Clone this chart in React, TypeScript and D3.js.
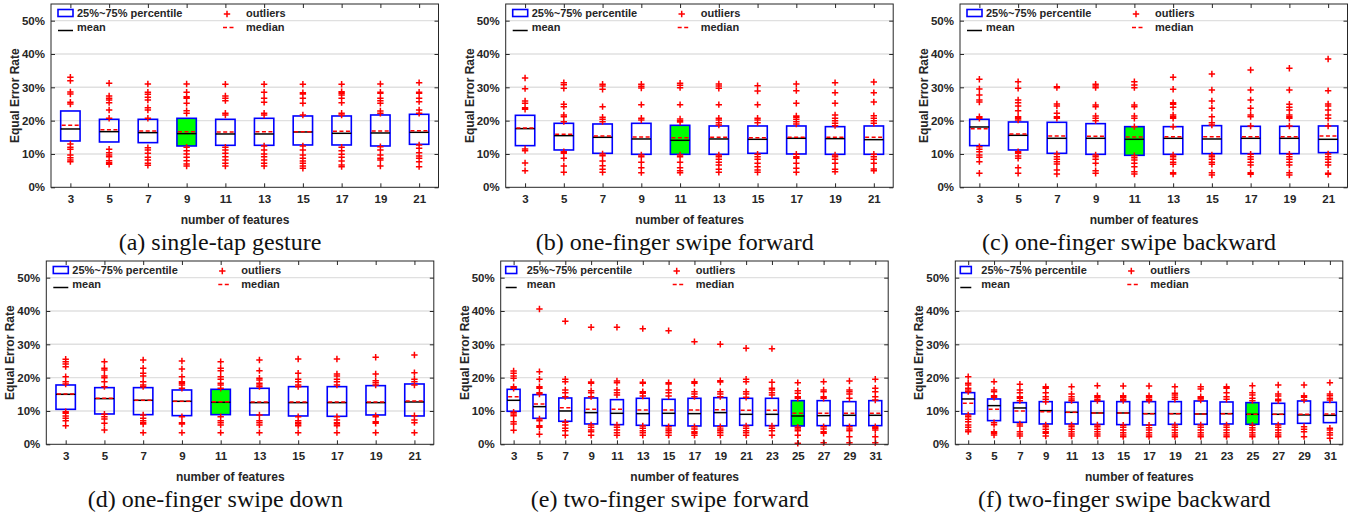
import React, { useRef, useEffect } from "react";
import * as d3 from "d3";

// number of features on the x axis
const features10 = [3, 5, 7, 9, 11, 13, 15, 17, 19, 21];
const features15 = [3, 5, 7, 9, 11, 13, 15, 17, 19, 21, 23, 25, 27, 29, 31];
const yTicks = [0, 10, 20, 30, 40, 50];

// all values are equal error rate in %
// (a) single-tap gesture
const tapQ1 = [13.9, 13.6, 13.4, 12.4, 12.6, 12.6, 12.7, 12.7, 12.4, 12.9];
const tapQ3 = [22.9, 20.4, 20.4, 20.7, 20.4, 20.7, 21.4, 21.4, 21.7, 21.9];
const tapMean = [17.5, 16.7, 16.4, 16.1, 16.0, 16.0, 16.6, 16.2, 16.3, 16.5];
const tapMedian = [18.6, 17.3, 16.9, 16.7, 16.6, 16.7, 16.7, 16.8, 16.9, 17.0];
const tapOutliers = [
  [33.0, 32.0, 28.6, 28.0, 25.5, 25.0, 13.0, 12.0, 11.4, 9.7, 8.9, 8.2, 7.7],
  [31.2, 27.4, 26.7, 26.2, 25.4, 23.2, 20.7, 11.4, 10.4, 9.7, 9.2, 8.0, 7.4, 6.9],
  [31.0, 28.5, 27.9, 27.0, 26.2, 23.9, 23.2, 20.7, 11.9, 11.2, 10.2, 9.0, 8.2, 7.2, 6.6],
  [31.0, 28.5, 27.2, 26.7, 25.2, 23.0, 22.2, 12.0, 11.0, 10.0, 9.0, 8.0, 7.0, 6.4],
  [30.9, 27.4, 26.7, 26.0, 22.2, 21.7, 12.0, 11.2, 10.2, 9.2, 8.2, 7.2, 6.4],
  [30.9, 28.5, 26.7, 25.5, 22.2, 21.7, 12.4, 11.2, 10.0, 9.2, 8.2, 7.2, 6.4],
  [30.9, 28.4, 28.0, 26.7, 25.2, 21.7, 12.4, 11.2, 9.7, 8.7, 7.9, 7.2, 6.4, 5.7],
  [30.9, 28.7, 28.2, 27.7, 26.7, 25.4, 22.2, 21.7, 12.0, 11.0, 9.9, 9.0, 7.9, 6.7, 6.2],
  [31.0, 28.5, 28.2, 26.7, 26.0, 25.2, 22.9, 22.2, 12.2, 11.2, 9.7, 8.7, 8.2, 6.4],
  [31.4, 28.5, 28.2, 26.7, 25.7, 23.2, 22.2, 12.7, 11.7, 10.4, 9.4, 8.7, 7.7, 6.2],
];

// (b) one-finger swipe forward
const fwdQ1 = [12.5, 11.2, 10.2, 9.9, 9.9, 9.9, 10.2, 10.0, 9.9, 9.9];
const fwdQ3 = [21.6, 19.2, 19.0, 19.2, 18.6, 18.4, 18.4, 18.4, 18.2, 18.4];
const fwdMean = [17.6, 15.5, 15.0, 14.5, 14.1, 14.5, 14.4, 14.7, 14.6, 14.3];
const fwdMedian = [17.8, 15.9, 15.4, 15.1, 14.9, 15.0, 14.9, 15.0, 15.0, 15.0];
const fwdOutliers = [
  [32.8, 29.6, 25.9, 25.2, 23.9, 23.4, 11.5, 11.0, 7.3, 5.0],
  [31.4, 30.8, 29.7, 24.9, 24.2, 21.7, 21.2, 19.7, 10.7, 10.2, 8.7, 6.4, 4.5],
  [30.9, 30.4, 29.4, 24.2, 21.0, 20.4, 19.7, 10.0, 9.5, 7.9, 6.5, 5.4, 4.5],
  [30.9, 30.3, 29.8, 24.8, 20.7, 20.2, 9.7, 9.2, 7.5, 5.9, 4.4],
  [31.2, 30.6, 29.9, 24.8, 20.5, 20.0, 19.6, 9.7, 9.2, 7.5, 5.9, 5.0, 4.4],
  [31.0, 30.4, 29.7, 24.8, 20.7, 20.2, 19.4, 18.7, 9.7, 9.2, 8.4, 7.5, 6.7, 5.4, 4.5],
  [30.5, 28.9, 24.8, 20.7, 20.2, 19.4, 9.9, 9.2, 8.4, 7.2, 6.2, 5.2, 4.5],
  [31.0, 29.0, 25.2, 21.4, 21.0, 20.4, 19.7, 19.0, 9.9, 9.2, 8.7, 7.2, 5.7, 4.5],
  [31.4, 28.4, 25.2, 21.7, 20.7, 20.0, 19.2, 18.5, 9.7, 9.2, 8.4, 7.2, 5.4, 4.7],
  [31.6, 28.4, 25.6, 21.5, 20.7, 20.0, 19.2, 9.9, 9.2, 8.4, 7.2, 5.5, 5.0],
];

// (c) one-finger swipe backward
const bwdQ1 = [12.5, 11.2, 10.2, 9.9, 9.6, 9.9, 10.1, 10.1, 10.1, 10.4];
const bwdQ3 = [20.4, 19.6, 19.5, 19.1, 18.2, 18.2, 18.5, 18.3, 18.3, 18.4];
const bwdMean = [18.1, 15.6, 14.7, 14.7, 14.4, 14.7, 14.5, 14.7, 14.7, 14.4];
const bwdMedian = [17.6, 16.0, 15.4, 15.3, 15.1, 15.2, 15.2, 15.2, 15.2, 15.4];
const bwdOutliers = [
  [32.4, 29.5, 27.7, 26.2, 25.6, 21.2, 20.7, 12.2, 11.4, 10.7, 9.7, 9.0, 7.7, 4.2],
  [31.7, 29.7, 26.2, 25.4, 24.4, 23.0, 21.2, 20.7, 20.2, 10.7, 10.2, 9.4, 8.7, 5.9, 4.2],
  [30.2, 29.9, 25.0, 24.4, 22.2, 21.2, 20.7, 10.0, 9.2, 8.4, 7.7, 7.0, 5.2, 4.0],
  [30.9, 30.4, 29.9, 24.7, 24.2, 21.4, 20.7, 20.0, 9.7, 9.2, 8.4, 7.2, 5.0, 4.2],
  [31.7, 30.7, 29.9, 24.7, 24.2, 21.4, 20.7, 18.2, 9.5, 8.9, 8.2, 7.2, 6.2, 4.7, 4.0],
  [33.0, 29.4, 25.4, 24.9, 24.0, 21.7, 21.2, 20.7, 18.2, 9.7, 9.2, 8.4, 7.5, 6.9, 4.4, 4.0],
  [34.0, 29.2, 25.9, 23.7, 21.2, 19.4, 18.7, 9.7, 9.2, 8.4, 7.5, 6.9, 4.4, 3.7],
  [35.2, 29.2, 26.2, 23.7, 21.7, 21.2, 18.4, 9.9, 9.2, 8.4, 7.5, 6.7, 4.4, 3.9],
  [35.7, 29.2, 24.9, 24.0, 23.2, 21.7, 21.2, 20.7, 18.4, 9.9, 9.2, 8.4, 7.5, 6.7, 4.4, 3.7],
  [38.5, 29.0, 25.0, 24.4, 23.2, 21.7, 20.7, 18.4, 10.0, 9.2, 8.4, 7.5, 6.7, 4.2, 3.9],
];

// (d) one-finger swipe down
const downQ1 = [10.5, 9.1, 8.9, 8.6, 8.9, 8.8, 8.5, 8.4, 8.8, 8.5];
const downQ3 = [17.8, 17.0, 17.0, 16.3, 16.5, 16.8, 17.3, 17.3, 17.6, 18.1];
const downMean = [15.0, 13.7, 13.2, 12.9, 12.6, 12.5, 12.5, 12.5, 12.5, 12.7];
const downMedian = [15.1, 13.8, 13.2, 12.9, 12.8, 12.7, 12.7, 12.7, 12.7, 13.0];
const downOutliers = [
  [25.5, 24.8, 24.1, 23.3, 20.3, 18.8, 18.1, 9.8, 9.3, 8.5, 7.8, 7.1, 5.6],
  [24.8, 22.8, 22.3, 20.5, 20.0, 18.8, 17.3, 9.0, 8.3, 7.6, 6.3, 4.3],
  [25.3, 22.8, 21.3, 20.5, 18.8, 17.8, 17.3, 8.8, 7.8, 7.1, 6.5, 6.1, 3.5],
  [25.0, 22.6, 20.3, 18.8, 18.3, 17.8, 16.8, 8.3, 6.5, 6.1, 3.5],
  [24.8, 22.8, 22.1, 20.3, 19.5, 18.3, 17.8, 16.8, 8.3, 7.1, 6.5, 5.8, 3.5],
  [25.3, 22.1, 19.8, 19.3, 18.3, 17.8, 17.3, 8.8, 7.1, 6.5, 5.8, 3.5],
  [25.6, 21.3, 19.5, 18.8, 17.8, 17.3, 8.3, 7.1, 6.5, 6.1, 5.6, 3.5],
  [25.6, 21.1, 20.5, 19.5, 18.8, 17.8, 8.3, 7.3, 6.5, 6.1, 5.6, 3.5],
  [26.1, 21.1, 19.1, 18.5, 17.8, 8.6, 8.3, 6.8, 6.3, 3.5],
  [26.8, 21.5, 19.5, 18.8, 17.8, 8.6, 7.3, 6.5, 3.5],
];

// (e) two-finger swipe forward
const twoFwdQ1 = [9.9, 7.8, 6.9, 6.1, 5.9, 5.7, 5.6, 5.5, 5.5, 5.7, 5.6, 5.5, 5.6, 5.6, 5.6];
const twoFwdQ3 = [16.5, 14.9, 13.9, 13.9, 13.4, 13.8, 13.5, 13.8, 14.0, 13.8, 13.8, 13.1, 13.1, 12.8, 13.1];
const twoFwdMean = [13.2, 11.3, 10.0, 9.5, 9.3, 9.2, 9.3, 9.2, 9.5, 9.0, 9.0, 8.5, 8.6, 8.7, 8.7];
const twoFwdMedian = [14.3, 12.1, 11.0, 10.5, 10.5, 10.3, 10.3, 10.3, 10.4, 10.2, 10.2, 9.3, 9.3, 9.3, 9.3];
const twoFwdOutliers = [
  [22.0, 21.3, 20.5, 19.8, 17.3, 16.8, 9.6, 9.1, 8.6, 6.8, 6.1, 4.2],
  [40.6, 21.8, 19.5, 17.3, 16.8, 15.5, 15.1, 7.6, 7.1, 5.6, 5.1, 3.0],
  [36.9, 19.5, 18.8, 16.3, 15.5, 14.3, 6.6, 5.8, 4.8, 4.1, 2.7],
  [35.1, 18.7, 18.3, 16.1, 15.5, 14.3, 5.8, 5.1, 4.3, 3.8, 2.7],
  [35.1, 19.0, 18.5, 16.3, 15.5, 14.8, 5.8, 5.1, 4.3, 3.5, 2.7],
  [34.7, 18.6, 18.3, 15.8, 15.3, 14.5, 5.5, 4.8, 4.1, 3.5, 2.7],
  [34.1, 18.5, 18.1, 16.3, 15.5, 14.5, 5.3, 4.6, 4.1, 3.5, 2.7],
  [30.8, 18.8, 18.3, 15.8, 15.1, 14.3, 5.3, 4.6, 3.8, 3.3, 2.7],
  [30.0, 19.1, 18.7, 15.8, 15.1, 14.3, 5.3, 4.6, 4.1, 3.5, 2.7],
  [28.8, 19.5, 18.8, 15.8, 15.1, 14.1, 5.5, 4.8, 4.1, 3.5, 2.7],
  [28.7, 18.6, 16.8, 16.3, 15.5, 14.8, 5.5, 4.8, 4.1, 2.7],
  [18.5, 16.1, 15.3, 14.3, 13.8, 5.1, 4.6, 4.1, 2.7, 0.3],
  [18.8, 16.3, 15.8, 14.3, 13.8, 5.3, 4.6, 3.8, 3.3, 0.5],
  [19.0, 16.3, 15.8, 15.1, 13.8, 5.3, 4.6, 4.1, 2.3, 0.5],
  [19.5, 16.8, 15.8, 14.3, 13.3, 5.3, 4.8, 4.3, 2.3, 0.5],
];

// (f) two-finger swipe backward
const twoBwdQ1 = [9.1, 7.1, 6.6, 6.1, 6.1, 6.0, 5.9, 5.8, 6.0, 6.0, 6.1, 6.0, 6.1, 6.3, 6.5];
const twoBwdQ3 = [15.5, 13.6, 12.5, 12.8, 12.6, 12.9, 12.8, 12.8, 12.8, 13.0, 12.7, 12.5, 12.3, 13.0, 12.6];
const twoBwdMean = [13.6, 11.6, 10.9, 10.1, 9.6, 9.4, 9.4, 9.2, 9.2, 9.1, 9.2, 9.0, 9.0, 8.8, 8.7];
const twoBwdMedian = [12.3, 10.5, 10.0, 9.8, 9.6, 9.4, 9.4, 9.2, 9.2, 9.1, 9.2, 9.0, 9.0, 9.0, 9.1];
const twoBwdOutliers = [
  [20.3, 18.3, 17.8, 16.8, 16.3, 15.8, 8.8, 8.3, 7.5, 6.8, 5.8, 5.1, 4.3, 3.8],
  [18.8, 16.3, 15.8, 14.6, 14.1, 6.5, 5.9, 3.8, 3.3, 2.8],
  [18.0, 16.3, 15.5, 14.3, 13.8, 13.1, 6.1, 5.5, 3.8, 3.1, 2.5],
  [17.3, 16.8, 15.5, 14.3, 13.5, 12.8, 5.8, 5.3, 4.5, 3.8, 3.3, 2.5],
  [17.3, 15.1, 14.3, 13.6, 13.1, 5.8, 5.3, 4.5, 3.8, 3.1, 2.5],
  [17.6, 14.6, 14.1, 13.5, 13.1, 5.8, 5.3, 4.5, 3.8, 3.1, 2.5],
  [17.5, 14.6, 14.1, 13.5, 13.1, 5.7, 5.1, 4.3, 3.5, 2.8, 2.3],
  [17.5, 14.6, 14.1, 13.5, 13.1, 5.7, 5.0, 4.3, 3.5, 2.8, 2.3],
  [17.3, 15.3, 14.8, 14.1, 13.5, 5.8, 5.1, 4.3, 3.5, 2.8, 2.3],
  [17.3, 16.6, 14.3, 13.8, 13.3, 5.8, 5.1, 4.3, 3.5, 2.8, 2.3],
  [17.3, 16.8, 15.5, 14.3, 13.5, 5.8, 5.1, 4.3, 3.5, 2.8, 2.3],
  [17.6, 15.5, 14.8, 13.8, 13.1, 5.7, 5.0, 4.3, 3.5, 2.8, 2.3],
  [17.8, 15.1, 14.5, 13.5, 13.1, 5.8, 5.1, 4.3, 3.5, 2.8, 2.3],
  [17.8, 14.6, 14.1, 13.3, 5.3, 4.5, 3.8, 2.3],
  [18.5, 15.1, 14.6, 13.8, 13.3, 4.8, 4.3, 3.5, 2.8, 1.8],
];

const panels = [
  { caption: "(a) single-tap gesture", features: features10, q1: tapQ1, q3: tapQ3, mean: tapMean, median: tapMedian, outliers: tapOutliers, best: 9, left: 51, top: 4 },
  { caption: "(b) one-finger swipe forward", features: features10, q1: fwdQ1, q3: fwdQ3, mean: fwdMean, median: fwdMedian, outliers: fwdOutliers, best: 11, left: 505.7, top: 4 },
  { caption: "(c) one-finger swipe backward", features: features10, q1: bwdQ1, q3: bwdQ3, mean: bwdMean, median: bwdMedian, outliers: bwdOutliers, best: 11, left: 960, top: 4 },
  { caption: "(d) one-finger swipe down", features: features10, q1: downQ1, q3: downQ3, mean: downMean, median: downMedian, outliers: downOutliers, best: 11, left: 46.3, top: 261 },
  { caption: "(e) two-finger swipe forward", features: features15, q1: twoFwdQ1, q3: twoFwdQ3, mean: twoFwdMean, median: twoFwdMedian, outliers: twoFwdOutliers, best: 25, left: 500.7, top: 261 },
  { caption: "(f) two-finger swipe backward", features: features15, q1: twoBwdQ1, q3: twoBwdQ3, mean: twoBwdMean, median: twoBwdMedian, outliers: twoBwdOutliers, best: 25, left: 955.3, top: 261 },
];

const plotW = 387.5;
const plotH = 183.3;
const sans = "'Liberation Sans', Arial, Helvetica, sans-serif";
const axisColor = "#262626";

function plusPath(cx, cy, r) {
  return `M${cx - r},${cy}H${cx + r}M${cx},${cy - r}V${cy + r}`;
}

function drawPanel(svg, p) {
  const L = p.left, T = p.top, R = L + plotW, B = T + plotH;

  const xScale = d3.scalePoint().domain(p.features).range([L, R]).padding(0.5);
  const yScale = d3.scaleLinear().domain([0, 55]).range([B, T]);
  const boxW = xScale.step() * 0.5;

  const g = svg.append("g");

  // horizontal grid
  g.append("g").selectAll("line")
    .data(yTicks.filter(d => d > 0))
    .enter().append("line")
    .attr("x1", L).attr("x2", R)
    .attr("y1", d => yScale(d)).attr("y2", d => yScale(d))
    .attr("stroke", "#e0e0e0").attr("stroke-width", 1.4);

  const rows = p.features.map((f, i) => ({
    f, q1: p.q1[i], q3: p.q3[i], mean: p.mean[i], median: p.median[i], out: p.outliers[i],
  }));

  const boxes = g.append("g");
  boxes.selectAll("rect")
    .data(rows).enter().append("rect")
    .attr("x", d => xScale(d.f) - boxW / 2)
    .attr("y", d => yScale(d.q3))
    .attr("width", boxW)
    .attr("height", d => yScale(d.q1) - yScale(d.q3))
    .attr("fill", d => d.f === p.best ? "#00ff00" : "none")
    .attr("stroke", "#0000ff").attr("stroke-width", 1.6);

  // mean (black) and median (red dashed)
  boxes.selectAll(".mean")
    .data(rows).enter().append("line").attr("class", "mean")
    .attr("x1", d => xScale(d.f) - boxW / 2).attr("x2", d => xScale(d.f) + boxW / 2)
    .attr("y1", d => yScale(d.mean)).attr("y2", d => yScale(d.mean))
    .attr("stroke", "#000").attr("stroke-width", 1.5);
  boxes.selectAll(".median")
    .data(rows).enter().append("line").attr("class", "median")
    .attr("x1", d => xScale(d.f) - boxW / 2 + 1).attr("x2", d => xScale(d.f) + boxW / 2)
    .attr("y1", d => yScale(d.median)).attr("y2", d => yScale(d.median))
    .attr("stroke", "#ff0000").attr("stroke-width", 1.5).attr("stroke-dasharray", "4,2.5");

  // outliers
  const pts = rows.flatMap(d => d.out.map(v => ({ f: d.f, v })));
  g.append("path")
    .attr("d", pts.map(d => plusPath(xScale(d.f), yScale(d.v), 3.2)).join(""))
    .attr("stroke", "#ff0000").attr("stroke-width", 1.5).attr("fill", "none");

  // axes with inward ticks
  const left = g.append("g").attr("transform", `translate(${L},0)`)
    .call(d3.axisLeft(yScale).tickValues(yTicks).tickSize(-4).tickSizeOuter(0).tickPadding(6).tickFormat(d => d + "%"));
  const bottom = g.append("g").attr("transform", `translate(0,${B})`)
    .call(d3.axisBottom(xScale).tickSize(-4).tickSizeOuter(0).tickPadding(7.5));
  g.append("g").attr("transform", `translate(${R},0)`)
    .call(d3.axisRight(yScale).tickValues(yTicks).tickSize(-4).tickSizeOuter(0).tickFormat(() => ""));
  g.append("g").attr("transform", `translate(0,${T})`)
    .call(d3.axisTop(xScale).tickSize(-4).tickSizeOuter(0).tickFormat(() => ""));
  g.selectAll(".domain").remove();
  g.selectAll(".tick line").attr("stroke", axisColor);
  [left, bottom].forEach(a => a.selectAll("text")
    .attr("font-family", sans).attr("font-weight", "bold").attr("font-size", 11.5).attr("fill", axisColor));

  g.append("rect")
    .attr("x", L).attr("y", T).attr("width", plotW).attr("height", plotH)
    .attr("fill", "none").attr("stroke", axisColor).attr("stroke-width", 1);

  // axis titles
  g.append("text")
    .attr("transform", `translate(${L - 36},${(T + B) / 2}) rotate(-90)`)
    .attr("text-anchor", "middle").attr("dominant-baseline", "central")
    .attr("font-family", sans).attr("font-weight", "bold").attr("font-size", 12).attr("fill", axisColor)
    .text("Equal Error Rate");
  g.append("text")
    .attr("x", L + 184).attr("y", B + 36.5)
    .attr("text-anchor", "middle")
    .attr("font-family", sans).attr("font-weight", "bold").attr("font-size", 12).attr("fill", axisColor)
    .text("number of features");

  // legend
  const wide = p.features.length <= 10;
  const iconX = L + (wide ? 7 : 5);
  const iconW = wide ? 15 : 11;
  const lg = g.append("g");
  lg.append("rect")
    .attr("x", iconX).attr("y", T + 5.5).attr("width", iconW).attr("height", 7)
    .attr("fill", "none").attr("stroke", "#0000ff").attr("stroke-width", 1.6);
  lg.append("line")
    .attr("x1", iconX).attr("x2", iconX + iconW).attr("y1", T + 26.5).attr("y2", T + 26.5)
    .attr("stroke", "#000").attr("stroke-width", 1.5);
  lg.append("path")
    .attr("d", plusPath(L + 176, T + 10, 3.2))
    .attr("stroke", "#ff0000").attr("stroke-width", 1.5);
  lg.append("line")
    .attr("x1", L + 172).attr("x2", L + 184).attr("y1", T + 23.5).attr("y2", T + 23.5)
    .attr("stroke", "#ff0000").attr("stroke-width", 1.5).attr("stroke-dasharray", "4,2.5");
  const items = [
    { label: "25%~75% percentile", x: L + 26, y: T + 8.5 },
    { label: "mean", x: L + 26, y: T + 23 },
    { label: "outliers", x: L + 195, y: T + 9 },
    { label: "median", x: L + 195, y: T + 23 },
  ];
  lg.selectAll("text").data(items).enter().append("text")
    .attr("x", d => d.x).attr("y", d => d.y + 4)
    .attr("font-family", sans).attr("font-weight", "bold").attr("font-size", 11).attr("fill", axisColor)
    .text(d => d.label);

  // sub caption
  g.append("text")
    .attr("x", L + 169).attr("y", T + 246)
    .attr("text-anchor", "middle")
    .attr("font-family", "'Liberation Serif', 'Times New Roman', serif").attr("font-size", 24).attr("fill", "#111")
    .text(p.caption);
}

const App = () => {
  const svgRef = useRef(null);

  useEffect(() => {
    const svg = d3.select(svgRef.current);
    svg.selectAll("*").remove();
    panels.forEach(p => drawPanel(svg, p));
  }, []);

  return (
    <svg ref={svgRef} width={1364} height={516}
      style={{ position: "absolute", left: 0, top: 0, background: "#fff" }}></svg>
  );
};

export default App;
